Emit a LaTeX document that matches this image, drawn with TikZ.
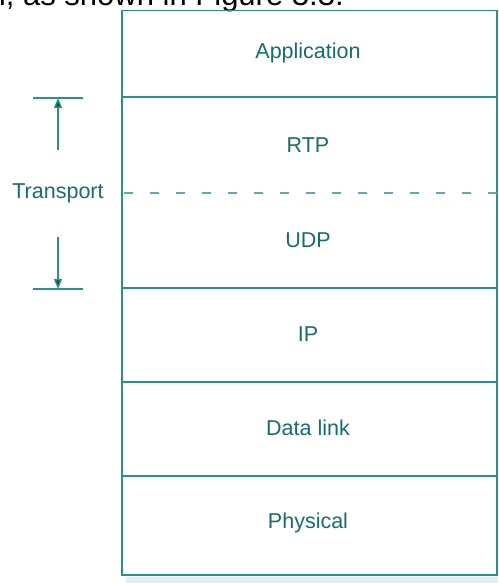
\documentclass[tikz,border=0pt]{standalone}
\usepackage{fontspec}
\setmainfont{Liberation Sans}
\usetikzlibrary{arrows.meta}
\definecolor{layerline}{RGB}{38,146,142}
\definecolor{layertext}{RGB}{22,108,110}
\definecolor{tipfill}{RGB}{20,80,82}
\definecolor{shadowblue}{RGB}{226,237,249}
\begin{document}
\begin{tikzpicture}[x=1pt,y=-1pt,
  boxline/.style={draw=layerline,line width=1.6pt},
  sepline/.style={draw=layerline,line width=1.6pt},
  dashsep/.style={draw=layerline!75,line width=1.6pt,dash pattern=on 9pt off 17pt},
  layerlabel/.style={text=layertext,inner sep=0pt,font=\fontsize{21.5}{24}\selectfont},
  dimtick/.style={draw=layerline,line width=1.6pt},
  dimarrow/.style={draw=layerline,line width=1.4pt,-{Triangle[length=10pt,width=8pt,fill=tipfill]}},
]
\useasboundingbox (0,0) rectangle (498,583);

% running text from the page above the figure
\node[anchor=base west,inner sep=0pt,text=black,font=\fontsize{31}{34}\selectfont] (caption) at (-11.5,6) {n, as shown in Figure 3.3.};

% faint shadow under the stack
\fill[shadowblue] (126,577) rectangle (498,583);

% protocol stack frame and layer separators
\draw[boxline] (122,10.5) rectangle (497,575);
\draw[sepline] (122,97) -- (497,97);
\draw[dashsep] (124,193) -- (497,193);
\draw[sepline] (122,288) -- (497,288);
\draw[sepline] (122,382) -- (497,382);
\draw[sepline] (122,476) -- (497,476);

% layer names
\node[layerlabel] (app) at (308,53) {Application};
\node[layerlabel] (rtp) at (308,145) {RTP};
\node[layerlabel] (udp) at (308,240) {UDP};
\node[layerlabel] (ip) at (308,334) {IP};
\node[layerlabel] (dlink) at (308,428) {Data link};
\node[layerlabel] (phys) at (308,523) {Physical};

% extent of the transport layer
\coordinate (topL) at (33,98);
\coordinate (topR) at (83,98);
\coordinate (topTip) at (58,98);
\coordinate (botL) at (33,289);
\coordinate (botR) at (83,289);
\coordinate (botTip) at (58,289);
\coordinate (upStart) at (58,150);
\coordinate (downStart) at (58,237);
\draw[dimtick] (topL) -- (topR);
\draw[dimtick] (botL) -- (botR);
\draw[dimarrow] (upStart) -- (topTip);
\draw[dimarrow] (downStart) -- (botTip);
\node[layerlabel] (transport) at (58,193) {Transport};
\end{tikzpicture}
\end{document}
